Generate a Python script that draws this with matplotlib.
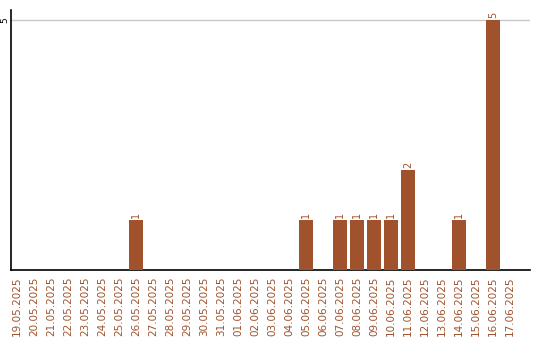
import matplotlib
matplotlib.use("Agg")
import matplotlib.pyplot as plt
import numpy as np

dates = ["19.05.2025", "20.05.2025", "21.05.2025", "22.05.2025", "23.05.2025",
         "24.05.2025", "25.05.2025", "26.05.2025", "27.05.2025", "28.05.2025",
         "29.05.2025", "30.05.2025", "31.05.2025", "01.06.2025", "02.06.2025",
         "03.06.2025", "04.06.2025", "05.06.2025", "06.06.2025", "07.06.2025",
         "08.06.2025", "09.06.2025", "10.06.2025", "11.06.2025", "12.06.2025",
         "13.06.2025", "14.06.2025", "15.06.2025", "16.06.2025", "17.06.2025"]
counts = [0, 0, 0, 0, 0, 0, 0, 1, 0, 0,
          0, 0, 0, 0, 0, 0, 0, 1, 0, 1,
          1, 1, 1, 2, 0, 0, 1, 0, 5, 0]

BROWN = "#a0522d"

fig = plt.figure(figsize=(5.4, 3.4), dpi=100)
ax = fig.add_axes([11 / 540, 70 / 340, 519 / 540, 260 / 340])

x = np.arange(len(dates))
ax.bar(x, counts, width=0.82, color=BROWN, zorder=3)
for xi, v in zip(x, counts):
    if v > 0:
        ax.text(xi, v + 0.05, str(v), rotation=90, ha="center", va="bottom",
                fontsize=7, color=BROWN)

ax.set_xlim(-0.35, 30.18)
ax.set_ylim(0, 5.2)
ax.set_yticks([5])
ax.set_yticklabels(["5"], rotation=90, va="center", fontsize=6.5)
ax.yaxis.grid(True, color="#c8c8c8", linewidth=1, zorder=0)
ax.set_xticks(x)
ax.set_xticklabels(dates, rotation=90, fontsize=7.5, color=BROWN)
ax.tick_params(axis="x", length=0, pad=5)
ax.tick_params(axis="y", length=0, pad=1)
for side in ["top", "right"]:
    ax.spines[side].set_visible(False)
for side in ["left", "bottom"]:
    ax.spines[side].set_linewidth(1.2)

fig.savefig("out.png", dpi=100)
